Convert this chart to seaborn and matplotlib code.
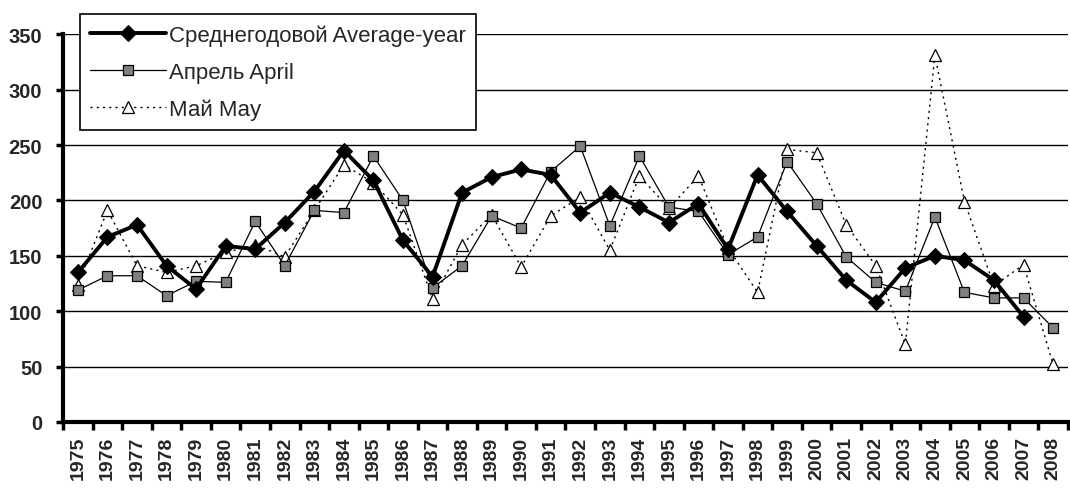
import numpy as np
import pandas as pd
import matplotlib
matplotlib.use("Agg")
import matplotlib.pyplot as plt
import seaborn as sns

years = list(range(1975, 2009))

# Среднегодовой / Average-year (no value for 2008)
avg_year = [135, 167, 178, 141, 120, 159, 156, 180, 208, 245,
            218, 164, 131, 207, 221, 228, 223, 189, 207, 194,
            180, 197, 156, 223, 190, 159, 128, 108, 139, 150,
            146, 128, 95, np.nan]

# Апрель / April
april = [119, 132, 132, 114, 127, 126, 181, 141, 191, 189,
         240, 200, 121, 141, 186, 175, 226, 249, 177, 240,
         194, 190, 151, 167, 235, 197, 149, 126, 118, 185,
         117, 112, 112, 85]

# Май / May
may = [124, 191, 141, 135, 141, 153, 160, 149, 191, 232,
       216, 187, 111, 160, 187, 140, 186, 203, 155, 222,
       193, 222, 157, 117, 246, 243, 178, 141, 70, 331,
       199, 123, 142, 52]

df = pd.DataFrame({"year": years, "avg": avg_year, "apr": april, "may": may})
df["pos"] = np.arange(len(df))

sns.set_style("white")
plt.rcParams["font.family"] = ["Liberation Sans", "DejaVu Sans"]

fig = plt.figure(figsize=(10.7, 4.89), dpi=100)
ax = fig.add_axes([0.059, 0.135, 0.939, 0.793])

sns.lineplot(data=df, x="pos", y="may", ax=ax, color="black", linewidth=1,
             linestyle=(0, (1.5, 3)), marker="^", markersize=8,
             markerfacecolor="white", markeredgecolor="black",
             markeredgewidth=0.9, label="Май May")
sns.lineplot(data=df, x="pos", y="apr", ax=ax, color="black", linewidth=0.9,
             marker="s", markersize=7, markerfacecolor="#808080",
             markeredgecolor="black", markeredgewidth=0.9,
             label="Апрель April")
sns.lineplot(data=df, x="pos", y="avg", ax=ax, color="black", linewidth=2.8,
             marker="D", markersize=8, markerfacecolor="black",
             markeredgecolor="black", label="Среднегодовой Average-year")

ax.set_xlim(-0.5, len(years) - 0.5)
ax.set_ylim(0, 350)
ax.set_yticks(range(0, 351, 50))
ax.yaxis.grid(True, color="black", linewidth=1)
ax.set_axisbelow(True)

ax.set_xticks(df["pos"])
ax.set_xticklabels([str(y) for y in years], rotation=90, fontsize=14,
                   fontweight="bold")
ax.set_xticks(np.arange(-0.5, len(years)), minor=True)
ax.tick_params(axis="x", which="major", length=0, pad=10)
ax.tick_params(axis="x", which="minor", length=6, width=2.5, direction="out",
               color="black", bottom=True)
ax.tick_params(axis="y", length=5, width=2.5, color="black", left=True,
               labelsize=14.5, pad=10)
for lab in ax.get_yticklabels():
    lab.set_fontweight("bold")

ax.set_xlabel("")
ax.set_ylabel("")
for side in ["top", "right"]:
    ax.spines[side].set_visible(False)
ax.spines["left"].set_linewidth(3)
ax.spines["bottom"].set_linewidth(3)
ax.spines["left"].set_color("black")
ax.spines["bottom"].set_color("black")

handles, labels = ax.get_legend_handles_labels()
order = [2, 1, 0]
leg = ax.legend([handles[i] for i in order], [labels[i] for i in order],
                loc="upper left", bbox_to_anchor=(0.017, 1.052), fontsize=16,
                frameon=True, fancybox=False, edgecolor="black",
                framealpha=1, handlelength=3.4, borderpad=0.45,
                labelspacing=0.72, handletextpad=0.15, borderaxespad=0)
leg.get_frame().set_linewidth(1.2)

fig.savefig("out.png", dpi=100)
